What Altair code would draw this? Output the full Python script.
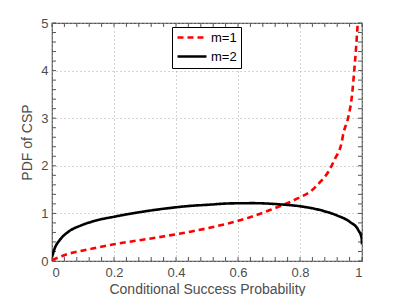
import altair as alt
import pandas as pd

# m=1 (red dashed)
x1 = [0.0, 0.052, 0.1, 0.2, 0.363, 0.45, 0.574, 0.639, 0.703, 0.768, 0.8, 0.832, 0.865, 0.891,
      0.913, 0.934, 0.94, 0.956, 0.967, 0.975, 0.981, 0.986]
y1 = [0.02, 0.15, 0.22, 0.35, 0.52, 0.62, 0.80, 0.92, 1.07, 1.24, 1.34, 1.45, 1.66, 1.87,
      2.15, 2.48, 2.68, 3.03, 3.44, 4.0, 4.49, 4.98]
# m=2 (black solid)
x2 = [0.0, 0.009, 0.025, 0.052, 0.095, 0.148, 0.2, 0.277, 0.363, 0.45, 0.5, 0.574, 0.65, 0.735,
      0.8, 0.865, 0.918, 0.961, 0.988, 0.999, 1.0]
y2 = [0.08, 0.27, 0.44, 0.61, 0.75, 0.86, 0.93, 1.02, 1.10, 1.16, 1.18, 1.21, 1.215, 1.19,
      1.15, 1.07, 0.96, 0.82, 0.65, 0.48, 0.35]

x_minor = [round(i * 0.04, 2) for i in range(26)]
y_minor = [round(i * 0.2, 1) for i in range(26)]

series_names = ["m=1", "m=2"]

df = pd.DataFrame(
    {"x": x1 + x2, "y": y1 + y2, "series": ["m=1"] * len(x1) + ["m=2"] * len(x2)}
)
dfx = pd.DataFrame({"t": x_minor})
dfy = pd.DataFrame({"t": y_minor})

W, H = 310, 238
TXT = "#4d4d4d"
FONT = "Liberation Sans"

xscale = alt.Scale(domain=[0, 1], nice=False, zero=False)
yscale = alt.Scale(domain=[0, 5], nice=False, zero=False)

leg = alt.Legend(title=None, orient="none", legendX=120, legendY=4,
                 strokeColor="#000000", fillColor="white", padding=4,
                 symbolType="stroke", symbolStrokeWidth=2.6, symbolSize=841,
                 clipHeight=13, labelOffset=3,
                 labelFontSize=13, labelColor="#000000", labelFont=FONT,
                 rowPadding=5, cornerRadius=0)

lines = alt.Chart(df).mark_line(strokeWidth=2.6, interpolate="monotone", clip=True).encode(
    x=alt.X("x:Q", scale=xscale, title="Conditional Success Probability",
            axis=alt.Axis(values=[0, 0.2, 0.4, 0.6, 0.8, 1], format="~g", tickSize=0,
                          labelPadding=5, grid=True, gridDash=[1, 3], gridColor="#aaaaaa",
                          domain=False, titlePadding=3)),
    y=alt.Y("y:Q", scale=yscale, title="PDF of CSP",
            axis=alt.Axis(values=[0, 1, 2, 3, 4, 5], tickSize=0, labelPadding=4, grid=True,
                          gridDash=[1, 3], gridColor="#aaaaaa", domain=False, titlePadding=6)),
    color=alt.Color("series:N", scale=alt.Scale(domain=series_names, range=["#ff0000", "#000000"]),
                    legend=leg),
    strokeDash=alt.StrokeDash("series:N", scale=alt.Scale(domain=series_names, range=[[6, 4], [1, 0]]),
                              legend=leg),
)

tk = 4
tick_color = "#555555"
xb = alt.Chart(dfx).mark_rule(color=tick_color, strokeWidth=1).encode(
    x=alt.X("t:Q", scale=xscale), y=alt.value(H), y2=alt.value(H - tk))
xt = alt.Chart(dfx).mark_rule(color=tick_color, strokeWidth=1).encode(
    x=alt.X("t:Q", scale=xscale), y=alt.value(0), y2=alt.value(tk))
yl = alt.Chart(dfy).mark_rule(color=tick_color, strokeWidth=1).encode(
    y=alt.Y("t:Q", scale=yscale), x=alt.value(0), x2=alt.value(tk))
yr = alt.Chart(dfy).mark_rule(color=tick_color, strokeWidth=1).encode(
    y=alt.Y("t:Q", scale=yscale), x=alt.value(W), x2=alt.value(W - tk))

chart = alt.layer(xb, xt, yl, yr, lines).properties(
    width=W, height=H,
    autosize=alt.AutoSizeParams(type="none"),
    padding={"left": 44, "top": 15, "right": 29, "bottom": 36},
).configure_view(stroke="#555555", strokeWidth=1.2).configure_axis(
    labelFont=FONT, titleFont=FONT, labelFontSize=13, titleFontSize=14,
    labelColor=TXT, titleColor=TXT, titleFontWeight="normal",
)

chart.save("out.html", embed_options={"renderer": "svg", "actions": False})
